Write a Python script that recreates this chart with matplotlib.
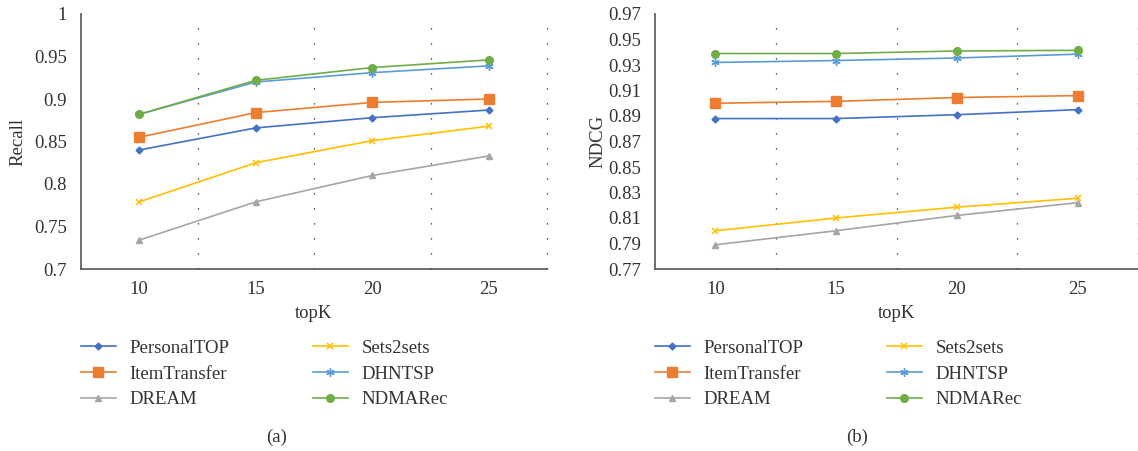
import matplotlib
matplotlib.use("Agg")
import matplotlib.pyplot as plt

plt.rcParams["font.family"] = ["Liberation Serif", "DejaVu Serif"]

# --- data ------------------------------------------------------------------
topk = ["10", "15", "20", "25"]
methods = ["PersonalTOP", "ItemTransfer", "DREAM", "Sets2sets", "DHNTSP", "NDMARec"]

recall_personaltop = [0.840, 0.866, 0.878, 0.887]
recall_itemtransfer = [0.855, 0.884, 0.896, 0.900]
recall_dream = [0.734, 0.779, 0.810, 0.833]
recall_sets2sets = [0.779, 0.825, 0.851, 0.868]
recall_dhntsp = [0.882, 0.920, 0.931, 0.939]
recall_ndmarec = [0.882, 0.922, 0.937, 0.946]

ndcg_personaltop = [0.888, 0.888, 0.891, 0.895]
ndcg_itemtransfer = [0.900, 0.9015, 0.9045, 0.906]
ndcg_dream = [0.789, 0.800, 0.812, 0.822]
ndcg_sets2sets = [0.800, 0.810, 0.8185, 0.8255]
ndcg_dhntsp = [0.932, 0.9335, 0.9355, 0.9385]
ndcg_ndmarec = [0.939, 0.939, 0.941, 0.9415]

recall_ticks = [0.7, 0.75, 0.8, 0.85, 0.9, 0.95, 1.0]
recall_ticklabels = ["0.7", "0.75", "0.8", "0.85", "0.9", "0.95", "1"]
ndcg_ticks = [0.77, 0.79, 0.81, 0.83, 0.85, 0.87, 0.89, 0.91, 0.93, 0.95, 0.97]
ndcg_ticklabels = ["0.77", "0.79", "0.81", "0.83", "0.85", "0.87",
                   "0.89", "0.91", "0.93", "0.95", "0.97"]

# Excel-like styles
styles = {
    "PersonalTOP": dict(color="#4472C4", marker="D", ms=3.5),
    "ItemTransfer": dict(color="#ED7D31", marker="s", ms=7),
    "DREAM": dict(color="#A5A5A5", marker="^", ms=4.5),
    "Sets2sets": dict(color="#FFC000", marker="x", ms=4.5, mew=1.1),
    "DHNTSP": dict(color="#5B9BD5", marker=(6, 2, 0), ms=6, mew=1.0),
    "NDMARec": dict(color="#70AD47", marker="o", ms=5.5),
}

TEXT = "#333333"
FS = 13.5

W, H = 1138, 451
fig = plt.figure(figsize=(W / 100, H / 100), dpi=100)


def px_axes(x0, x1, y0, y1):
    # pixel box (top-left origin) -> figure fraction
    return fig.add_axes([x0 / W, (H - y1) / H, (x1 - x0) / W, (y1 - y0) / H])


def draw_panel(ax, series, yticks, yticklabels, ylabel, ylabel_x):
    xs = range(len(topk))
    handles = []
    for name, vals in zip(methods, series):
        st = styles[name]
        (h,) = ax.plot(xs, vals, lw=1.2, label=name, **st)
        handles.append(h)

    ax.set_xlim(-0.5, len(topk) - 0.5)
    ax.set_ylim(yticks[0], yticks[-1])
    ax.set_xticks(list(xs))
    ax.set_xticklabels(topk)
    ax.set_yticks(yticks)
    ax.set_yticklabels(yticklabels)
    ax.tick_params(length=0, labelsize=FS, colors=TEXT)
    ax.tick_params(axis="x", pad=9)
    ax.tick_params(axis="y", pad=10)

    # dotted separators between categories
    for b in [i + 0.5 for i in range(len(topk))]:
        ax.axvline(b, color="#222222", lw=0.9, ls=(0, (1, 11)), zorder=0,
                   clip_on=False)

    for s in ["top", "right"]:
        ax.spines[s].set_visible(False)
    for s in ["left", "bottom"]:
        ax.spines[s].set_color("#555555")
        ax.spines[s].set_linewidth(1.2)

    ax.set_xlabel("topK", fontsize=FS, color=TEXT)
    ax.xaxis.set_label_coords(0.5, -0.175)
    ax.xaxis.label.set_va("center")
    ax.set_ylabel(ylabel, fontsize=FS, color=TEXT)
    ax.yaxis.set_label_coords(ylabel_x, 0.5)
    ax.yaxis.label.set_va("center")
    return handles


def add_legend(ax, handles, x_col1, x_col2):
    for hs, xp in [(handles[:3], x_col1), (handles[3:], x_col2)]:
        leg = fig.legend(handles=hs, loc="center left",
                         bbox_to_anchor=(xp / W, (H - 374) / H),
                         frameon=False, fontsize=FS, borderpad=0,
                         borderaxespad=0, handlelength=1.85,
                         handletextpad=0.75, labelspacing=0.45)
        for t in leg.get_texts():
            t.set_color(TEXT)


ax1 = px_axes(81, 547, 14, 269)
h1 = draw_panel(ax1,
                [recall_personaltop, recall_itemtransfer, recall_dream,
                 recall_sets2sets, recall_dhntsp, recall_ndmarec],
                recall_ticks, recall_ticklabels, "Recall", -0.135)
add_legend(ax1, h1, 81, 313)
fig.text(277 / W, (H - 437) / H, "(a)", ha="center", va="center",
         fontsize=FS, color=TEXT)

ax2 = px_axes(655, 1138, 14, 269)
h2 = draw_panel(ax2,
                [ndcg_personaltop, ndcg_itemtransfer, ndcg_dream,
                 ndcg_sets2sets, ndcg_dhntsp, ndcg_ndmarec],
                ndcg_ticks, ndcg_ticklabels, "NDCG", -0.118)
add_legend(ax2, h2, 655, 887)
fig.text(857 / W, (H - 437) / H, "(b)", ha="center", va="center",
         fontsize=FS, color=TEXT)

fig.savefig("out.png", dpi=100)
